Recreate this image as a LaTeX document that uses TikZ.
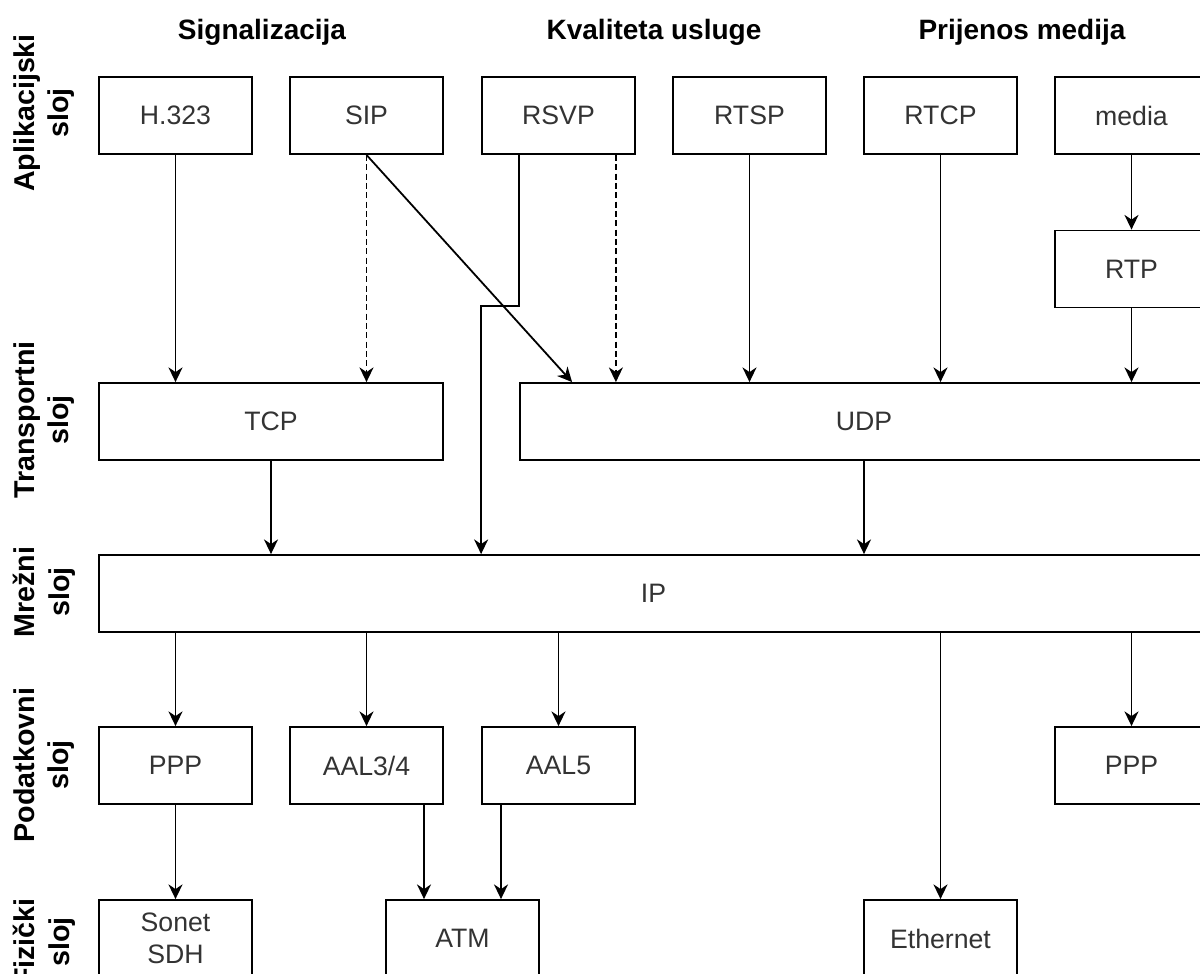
\documentclass[tikz,border=0pt]{standalone}
\usepackage{fontspec}
\setmainfont{Liberation Sans}
\usetikzlibrary{arrows.meta,calc}
\definecolor{txt}{HTML}{333333}
\tikzset{
  box/.style={draw=black, line width=1.35pt, fill=white, text=txt, font=\fontsize{20}{24}\selectfont,
    minimum width=114.75pt, minimum height=57.75pt, inner sep=0pt, align=center},
  arr/.style={draw=black, line width=1.35pt, -{Stealth[length=11pt,width=10.5pt,inset=3.5pt]}},
  dsh/.style={arr, dash pattern=on 4.5pt off 2.5pt},
  ttl/.style={font=\bfseries\fontsize{21}{25}\selectfont, text=black},
  lyr/.style={font=\bfseries\fontsize{21.5}{26}\selectfont, text=black, rotate=90, align=center}
}
\begin{document}
\begin{tikzpicture}[x=0.75pt,y=-0.75pt]
\useasboundingbox (0,0) rectangle (1200,974);
\fill[white] (0,0) rectangle (1200,974);
\clip (0,0) rectangle (1200,974);
% titles
\node[ttl] (t1) at (262,32) {Signalizacija};
\node[ttl] (t2) at (654,32) {Kvaliteta usluge};
\node[ttl] (t3) at (1022,32) {Prijenos medija};
% layer labels
\node[lyr] (l1) at (44,113) {Aplikacijski\\sloj};
\node[lyr] (l2) at (44,420) {Transportni\\sloj};
\node[lyr] (l3) at (44,592) {Mrežni\\sloj};
\node[lyr] (l4) at (44,765) {Podatkovni\\sloj};
\node[lyr] (l5) at (44,942) {Fizički\\sloj};
% application row
\node[box] (h323) at (175.5,115.5) {H.323};
\node[box] (sip) at (366.5,115.5) {SIP};
\node[box] (rsvp) at (558.5,115.5) {RSVP};
\node[box] (rtsp) at (749.5,115.5) {RTSP};
\node[box] (rtcp) at (940.5,115.5) {RTCP};
\node[box] (media) at (1131.5,115.5) {media};
\node[box] (rtp) at (1131.5,269) {RTP};
% transport
\node[box, minimum width=258pt] (tcp) at (271,421.5) {TCP};
\node[box, minimum width=516pt] (udp) at (864,421.5) {UDP};
% network
\node[box, minimum width=831.75pt] (ip) at (653.5,593.5) {IP};
% data link
\node[box] (ppp1) at (175.5,765.5) {PPP};
\node[box] (aal34) at (366.5,765.5) {AAL3/4};
\node[box] (aal5) at (558.5,765.5) {AAL5};
\node[box] (ppp2) at (1131.5,765.5) {PPP};
% physical
\node[box] (sonet) at (175.5,938.5) {Sonet\\SDH};
\node[box] (atm) at (462.5,938.5) {ATM};
\node[box] (eth) at (940.5,938.5) {Ethernet};
% helper coordinates
\coordinate (sipudp) at ($(udp.north west)+(53,0)$);
\coordinate (rsvpA) at ($(rsvp.south west)+(38,0)$);
\coordinate (rsvpB) at ($(rsvp.south east)+(-20,0)$);
\coordinate (atmL) at ($(atm.north)+(-38.5,0)$);
\coordinate (atmR) at ($(atm.north)+(38.5,0)$);
% connectors
\draw[arr] (h323.south) -- (h323.south |- tcp.north);
\draw[dsh] (sip.south) -- (sip.south |- tcp.north);
\draw[arr] (sip.south) -- (sipudp);
\draw[arr] (rsvpA) -- ++(0,151) -- ($(rsvp.south west)+(0,151)$) -- (rsvp.south west |- ip.north);
\draw[dsh] (rsvpB) -- (rsvpB |- udp.north);
\draw[arr] (rtsp.south) -- (rtsp.south |- udp.north);
\draw[arr] (rtcp.south) -- (rtcp.south |- udp.north);
\draw[arr] (media.south) -- (rtp.north);
\draw[arr] (rtp.south) -- (rtp.south |- udp.north);
\draw[arr] (tcp.south) -- (tcp.south |- ip.north);
\draw[arr] (udp.south) -- (udp.south |- ip.north);
\draw[arr] (ppp1.north |- ip.south) -- (ppp1.north);
\draw[arr] (aal34.north |- ip.south) -- (aal34.north);
\draw[arr] (aal5.north |- ip.south) -- (aal5.north);
\draw[arr] (eth.north |- ip.south) -- (eth.north);
\draw[arr] (ppp2.north |- ip.south) -- (ppp2.north);
\draw[arr] (ppp1.south) -- (sonet.north);
\draw[arr] (aal34.south -| atmL) -- (atmL);
\draw[arr] (aal5.south -| atmR) -- (atmR);
\end{tikzpicture}
\end{document}
